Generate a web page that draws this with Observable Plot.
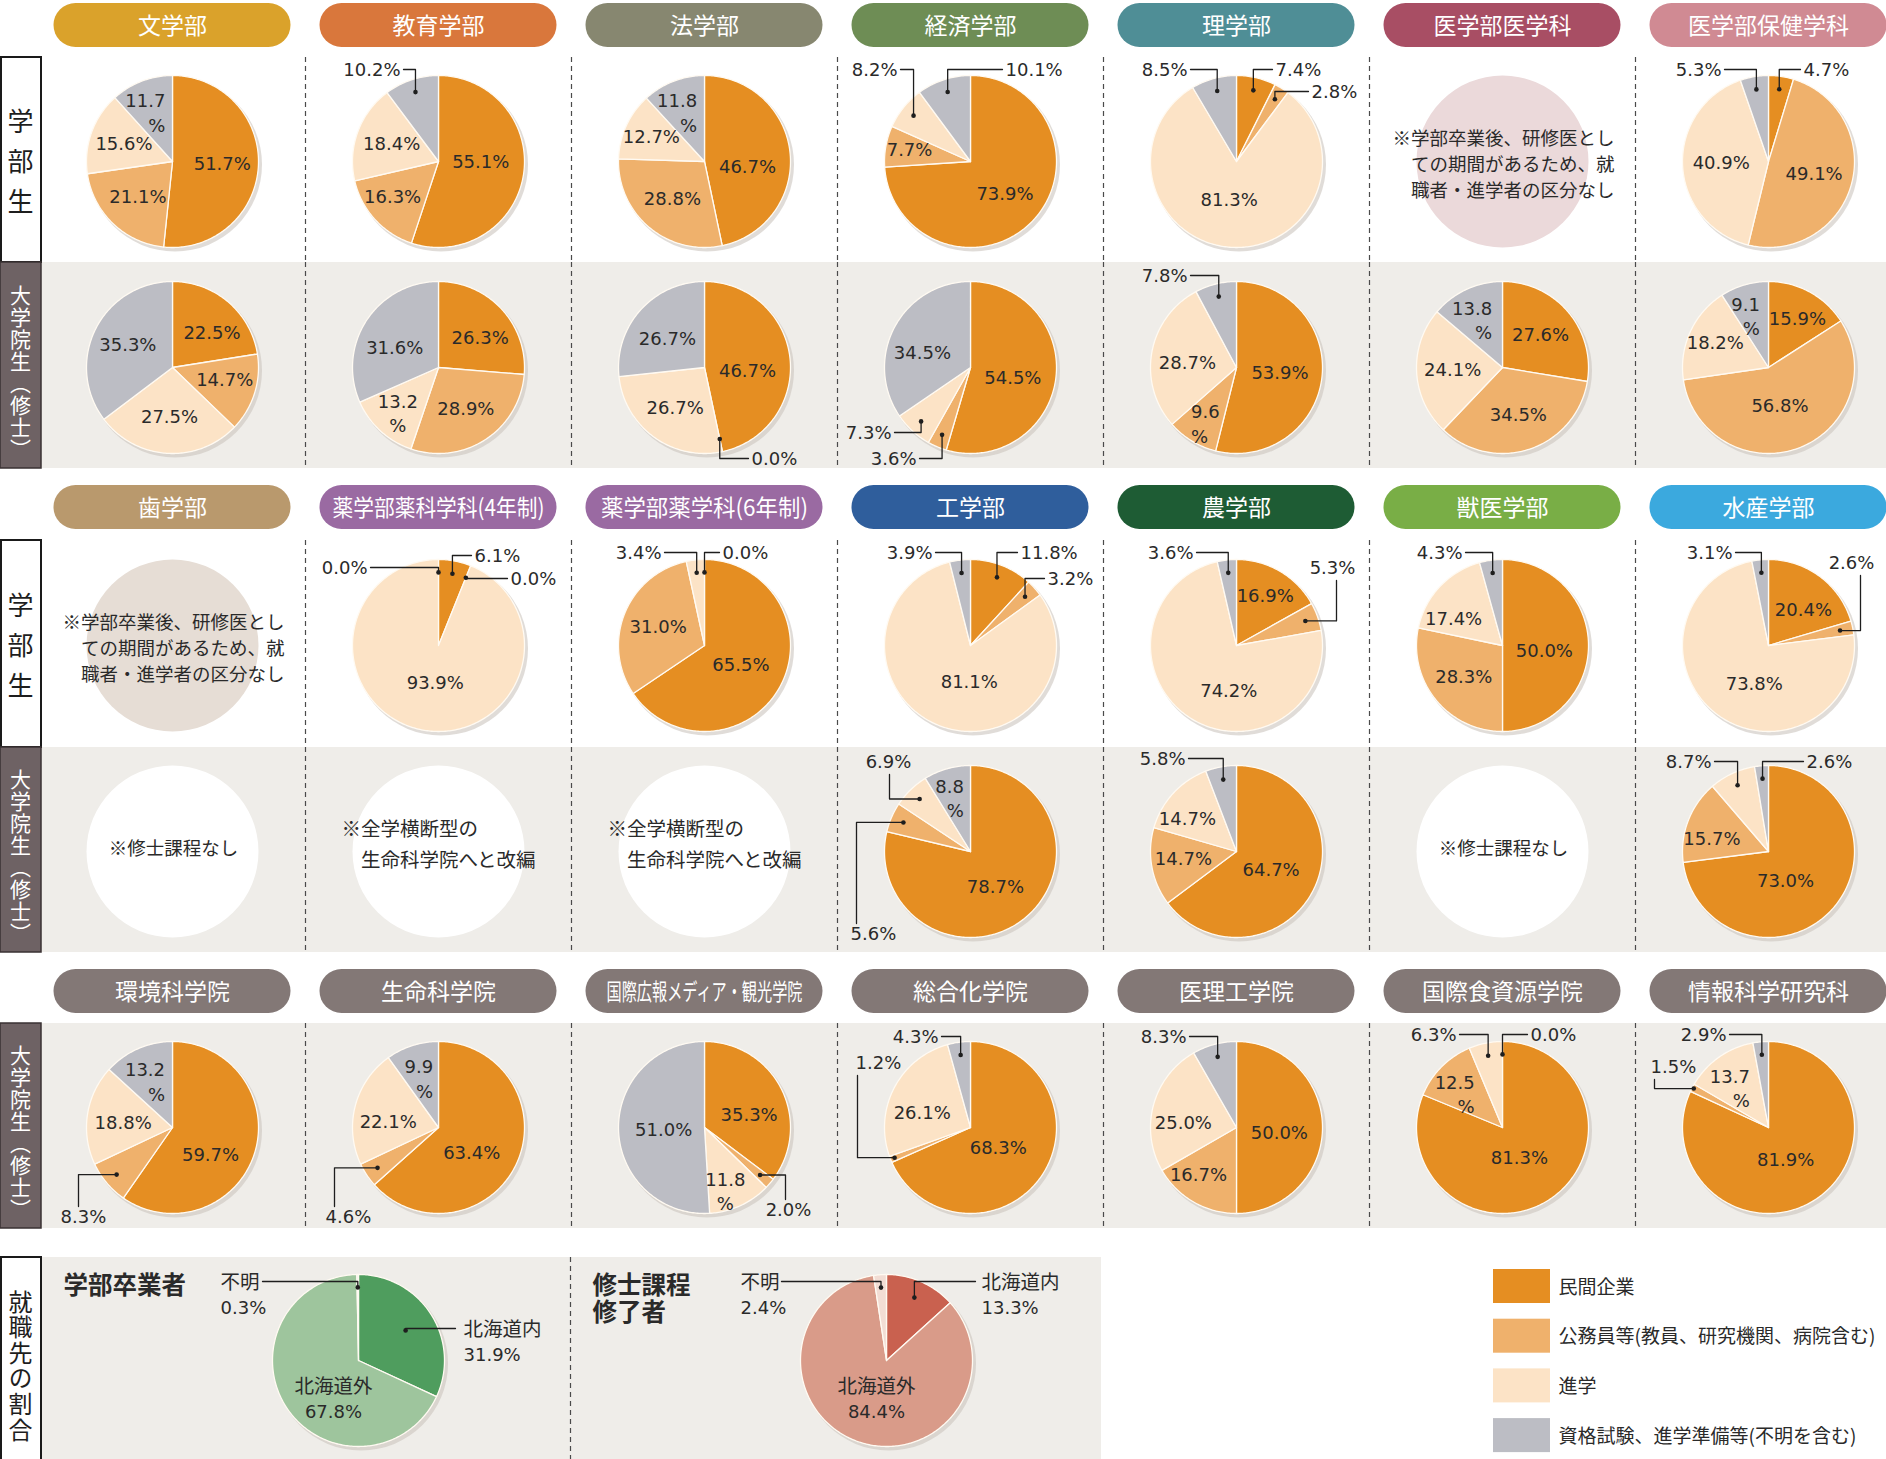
<!DOCTYPE html>
<html><head><meta charset="utf-8">
<script src="https://cdn.jsdelivr.net/npm/d3@7"></script>
<script src="https://cdn.jsdelivr.net/npm/@observablehq/plot@0.6"></script>
<style>body{margin:0;background:#fff}</style>
</head><body><div id="chart"></div>
<script>
// ---------------- data ----------------
const categories = ["民間企業", "公務員等(教員、研究機関、病院含む)", "進学", "資格試験、進学準備等(不明を含む)"];
const facultiesA = ["文学部", "教育学部", "法学部", "経済学部", "理学部", "医学部医学科", "医学部保健学科"];
const facultiesB = ["歯学部", "薬学部薬科学科(4年制)", "薬学部薬学科(6年制)", "工学部", "農学部", "獣医学部", "水産学部"];
const schoolsC = ["環境科学院", "生命科学院", "国際広報メディア・観光学院", "総合化学院", "医理工学院", "国際食資源学院", "情報科学研究科"];
// values in order: 民間企業, 公務員等, 進学, 資格試験等
const undergradA = [[51.7, 21.1, 15.6, 11.7], [55.1, 16.3, 18.4, 10.2], [46.7, 28.8, 12.7, 11.8], [73.9, 7.7, 8.2, 10.1], [7.4, 2.8, 81.3, 8.5], null, [4.7, 49.1, 40.9, 5.3]];
const masterA = [[22.5, 14.7, 27.5, 35.3], [26.3, 28.9, 13.2, 31.6], [46.7, 0.0, 26.7, 26.7], [54.5, 3.6, 7.3, 34.5], [53.9, 9.6, 28.7, 7.8], [27.6, 34.5, 24.1, 13.8], [15.9, 56.8, 18.2, 9.1]];
const undergradB = [null, [6.1, 0.0, 93.9, 0.0], [65.5, 31.0, 3.4, 0.0], [11.8, 3.2, 81.1, 3.9], [16.9, 5.3, 74.2, 3.6], [50.0, 28.3, 17.4, 4.3], [20.4, 2.6, 73.8, 3.1]];
const masterB = [null, null, null, [78.7, 5.6, 6.9, 8.8], [64.7, 14.7, 14.7, 5.8], null, [73.0, 15.7, 8.7, 2.6]];
const masterC = [[59.7, 8.3, 18.8, 13.2], [63.4, 4.6, 22.1, 9.9], [35.3, 2.0, 11.8, 51.0], [68.3, 1.2, 26.1, 4.3], [50.0, 16.7, 25.0, 8.3], [81.3, 12.5, 6.3, 0.0], [81.9, 1.5, 13.7, 2.9]];
const notesUndergradB = ["※学部卒業後、研修医とし\nての期間があるため、就\n職者・進学者の区分なし", null, null, null, null, null, null];
const notesUndergradA = [null, null, null, null, null, "※学部卒業後、研修医とし\nての期間があるため、就\n職者・進学者の区分なし", null];
const notesMasterB = ["※修士課程なし", "※全学横断型の\n　生命科学院へと改編", "※全学横断型の\n　生命科学院へと改編", null, null, "※修士課程なし", null];
const rowLabels = ["学部生", "大学院生(修士)", "就職先の割合"];
const regionNames = ["北海道内", "北海道外", "不明"];
const destUndergrad = [31.9, 67.8, 0.3];
const destMaster = [13.3, 84.4, 2.4];
const destTitles = ["学部卒業者", "修士課程\n修了者"];

// ---------------- styles ----------------
const catColors = ["#e58e22", "#efb16c", "#fce3c6", "#bcbdc4"];
const destKeys = ["U北海道内", "U北海道外", "U不明", "M北海道内", "M北海道外", "M不明"];
const destColors = ["#4f9d5e", "#9ec59d", "#e4ece1", "#c9614f", "#d99b89", "#f2ddd4"];
const pillColorsA = ["#daa22b", "#d9773c", "#878770", "#6e8d55", "#4f8e96", "#a84e64", "#d08a93"];
const pillColorsB = ["#b9996d", "#9a6aa2", "#9a6aa2", "#2f5e9c", "#1e5c34", "#79ae46", "#3ba9de"];
const pillColorC = "#837876";
const pctFont = "'DejaVu Sans', sans-serif";
const jpFont = "'Noto Sans CJK JP', 'Noto Sans CJK SC', sans-serif";

// ---------------- layout ----------------
const W = 1886, H = 1459, R = 86;
const colX = d3.range(7).map(k => 172 + 266 * k);
const sections = [
  {pillTop: 3, names: facultiesA, colors: pillColorsA, rows: [
    {y0: 57, y1: 262, kind: "u", values: undergradA, notes: notesUndergradA},
    {y0: 262, y1: 468, kind: "m", values: masterA, notes: null}]},
  {pillTop: 485, names: facultiesB, colors: pillColorsB, rows: [
    {y0: 540, y1: 747, kind: "u", values: undergradB, notes: notesUndergradB},
    {y0: 747, y1: 952, kind: "m", values: masterB, notes: notesMasterB}]},
  {pillTop: 969, names: schoolsC, colors: schoolsC.map(() => pillColorC), rows: [
    {y0: 1023, y1: 1228, kind: "m", values: masterC, notes: null}]}
];

// label layout helpers
const I = (f = 0.58, nx = 0, ny = 0) => ({t: "i", f, nx, ny});
const Wr = (f, a, xo = 0, yo = 0) => ({t: "w", f, a, xo, yo});
const V = (dx, dy, a, df = 0.85, le) => ({t: "o", r: "vh", dx, dy, a, df, le});
const Hv = (dx, dy, a, ex, df = 0.85, ey) => ({t: "o", r: "hv", dx, dy, a, ex, df, ey});

const labelLayouts = [
  [ // section A undergrad
    [I(), I(), I(0.6), Wr(0.62, "end", 12)],
    [I(0.58, -7, -7), I(0.58, -9, 2), I(), V(-38, -91, "end")],
    [I(0.55, -4, 11), I(), I(0.68), Wr(0.62, "end", 12)],
    [I(0.55), I(0.72), V(-73, -91, "end"), V(35, -91, "start")],
    [V(39, -91, "start"), V(75, -69, "start"), I(0.5, -5, -4), V(-49, -91, "end")],
    null,
    [V(35, -91, "start"), I(0.55), I(0.55), V(-47, -91, "end")]
  ],
  [ // section A master
    [I(0.6, 6, 5), I(0.6, 3, -3), I(), I()],
    [I(0.58, 5, 5), I(), Wr(0.7, "middle"), I(0.58, -2, 8)],
    [I(0.55, -4, 9), V(47, 92, "start"), I(), I(0.58, 0, 5)],
    [I(0.58, -7, 4), V(-54, 92, "end"), V(-79, 66, "end"), I(0.58, -4, 9)],
    [I(0.58, -6, 0), Wr(0.75, "start", -12), I(0.58, 0, 5), V(-49, -91, "end")],
    [I(), I(), I(), Wr(0.62, "end", 12)],
    [I(0.58, 5, -4), I(0.58, -6, -8), I(0.68), Wr(0.6, "end", 6, -3)]
  ],
  [ // section B undergrad
    null,
    [V(36, -89, "start"), V(72, -66, "start"), I(0.5, 5, -4), V(-71, -77, "end")],
    [I(0.48), I(), V(-43, -92, "end"), V(18, -92, "start")],
    [V(50, -92, "start"), V(77, -66, "start"), I(0.45, 12, 0), V(-38, -92, "end")],
    [I(0.66), Hv(96, -77, "middle", 100), I(0.5, 16, 10), V(-43, -92, "end")],
    [I(0.58, -8, 6), I(), I(0.62, -10, 10), V(-40, -92, "end")],
    [I(0.62, 3, 7), Hv(83, -82, "middle", 92), I(0.5, 11, 4), V(-36, -92, "end")]
  ],
  [ // section B master
    null, null, null,
    [I(0.58, -6, -3), Hv(-120, 83, "start", -114), Hv(-82, -89, "middle", -81), Wr(0.62, "end", 8, -3)],
    [I(0.58, -10, -4), I(0.58, -4, -1), I(0.68, -6, 7), V(-51, -92, "end")],
    null,
    [I(0.45, -12, 4), I(0.58, -10, 6), V(-57, -89, "end"), V(38, -89, "start")]
  ],
  [ // section C master
    [I(0.5, -3, 15), Hv(-112, 90, "start", -94), I(0.58, 0, 3), Wr(0.62, "end", 14, 2)],
    [I(0.5, -6, 8), Hv(-113, 90, "start", -104), I(0.58, -2, 7), Wr(0.62, "end", 11, 1)],
    [I(0.58, 0, 10), Hv(84, 83, "middle", 81), Wr(0.75, "middle", -6, 4), I(0.58, 9, 1)],
    [I(0.58, -14, -6), Hv(-115, -64, "start", -113, 0.95), I(0.58, -4, 9), V(-32, -90, "end")],
    [I(0.58, -7, 6), I(0.58, -13, 5), I(0.58, -5, 9), V(-50, -90, "end")],
    [I(0.5, -7, -5), Wr(0.62, "end", 10, 3), V(-46, -92, "end"), V(28, -92, "start")],
    [I(0.5, -6, -3), Hv(-118, -60, "start", -114, 0.98), Wr(0.62, "end", 12, 3), V(-42, -92, "end")]
  ]
];

// ---------------- build mark data ----------------
const slicePts = [], leaderPts = [], leaderDots = [], labels = [], pieCenters = [], noteCircles = [], noteTexts = [];
const fmt = v => v.toFixed(1) + "%";
const NAME_GAP = 26;

function addPie(id, cx, cy, values, keys, spec) {
  pieCenters.push({x: cx, y: cy});
  const total = d3.sum(values);
  let cum = 0;
  values.forEach((v, i) => {
    const a0 = cum / total * 2 * Math.PI, a1 = (cum + v) / total * 2 * Math.PI, am = (a0 + a1) / 2;
    cum += v;
    if (v > 0) {
      const n = Math.max(2, Math.ceil((a1 - a0) / (Math.PI / 180)));
      const key = id + "-" + i;
      slicePts.push({key, cat: keys[i], x: cx, y: cy});
      for (let j = 0; j <= n; j++) {
        const a = a0 + (a1 - a0) * j / n;
        slicePts.push({key, cat: keys[i], x: cx + R * Math.sin(a), y: cy - R * Math.cos(a)});
      }
      slicePts.push({key, cat: keys[i], x: cx, y: cy});
    }
    const s = spec && spec[i];
    if (!s) return;
    const pt = f => [cx + R * f * Math.sin(am), cy - R * f * Math.cos(am)];
    if (s.t === "i") {
      const [x, y] = pt(s.f);
      labels.push({x: x + s.nx, y: y + s.ny, text: fmt(v), anchor: "middle", kind: "pct"});
    } else if (s.t === "w") {
      const [x, y] = pt(s.f);
      labels.push({x: x + s.xo, y: y + s.yo, text: v.toFixed(1) + "\n%", anchor: s.a, kind: "wrap"});
    } else if (s.t === "n") {
      labels.push({x: cx + s.dx, y: cy + s.dy - 1, text: s.name, anchor: "middle", kind: "jp"});
      labels.push({x: cx + s.dx, y: cy + s.dy + NAME_GAP - 1, text: fmt(v), anchor: "middle", kind: "pct"});
    } else {
      const [px, py] = pt(s.df);
      const tx = cx + s.dx, ty = cy + s.dy, key = id + "-L" + i;
      leaderDots.push({x: px, y: py});
      if (s.r === "vh") {
        const ly = ty - 1;
        const le = s.le !== undefined ? cx + s.le : (s.a === "end" ? tx + 3 : tx - 3);
        leaderPts.push({key, x: px, y: py}, {key, x: px, y: ly}, {key, x: le, y: ly});
      } else {
        const ex = cx + s.ex;
        const ey = s.ey !== undefined ? cy + s.ey : (ty < py ? ty + 12 : ty - 11);
        leaderPts.push({key, x: px, y: py}, {key, x: ex, y: py}, {key, x: ex, y: ey});
      }
      if (s.name) {
        labels.push({x: tx, y: ty, text: s.name, anchor: s.a, kind: "jp"});
        labels.push({x: tx, y: ty + NAME_GAP, text: fmt(v), anchor: s.a, kind: "pct"});
      } else {
        labels.push({x: tx, y: ty, text: fmt(v), anchor: s.a, kind: "pct"});
      }
    }
  });
}

const bands = [], whiteBoxes = [], darkBoxes = [], seps = [], pills = [], vLabels = [];
const vertLabel = s => s.replace("(", "（").replace(")", "）");
let layoutIndex = 0;
sections.forEach((sec, si) => {
  sec.names.forEach((name, k) => pills.push({cx: colX[k], y1: sec.pillTop, y2: sec.pillTop + 44, name, color: sec.colors[k]}));
  sec.rows.forEach((row, ri) => {
    const cy = Math.round((row.y0 + row.y1) / 2 + 1.5);
    if (row.kind === "m") { bands.push({x1: 41, x2: W, y1: row.y0, y2: row.y1}); darkBoxes.push({y1: row.y0, y2: row.y1}); }
    else whiteBoxes.push({y1: row.y0, y2: row.y1});
    vLabels.push({y: (row.y0 + row.y1) / 2, text: vertLabel(row.kind === "u" ? rowLabels[0] : rowLabels[1]), kind: row.kind});
    colX.slice(0, 6).forEach(x => seps.push({x: x + 133, y1: row.y0, y2: row.y1}));
    const spec = labelLayouts[layoutIndex++];
    colX.forEach((cx, k) => {
      const vals = row.values[k];
      if (vals) addPie(`s${si}r${ri}c${k}`, cx, cy, vals, categories, spec[k]);
      else if (row.notes && row.notes[k]) {
        const txt = row.notes[k];
        const isLong = txt.length > 20;
        noteCircles.push({x: cx, y: cy, fill: row.kind === "u" ? (k === 0 ? "#e6ddd5" : "#ebd9da") : "#ffffff"});
        if (isLong) noteTexts.push({x: cx + 112, y: cy + 1, text: txt, anchor: "end", size: 18.5, lh: 1.4});
        else if (txt.includes("\n")) noteTexts.push({x: cx - 97, y: cy - 10, text: txt, anchor: "start", size: 19.5, lh: 1.6});
        else noteTexts.push({x: cx + 1, y: cy - 2, text: txt, anchor: "middle", size: 18.5, lh: 1});
      }
    });
  });
});

// bottom section
const botY0 = 1257;
bands.push({x1: 41, x2: 1101, y1: botY0, y2: H});
whiteBoxes.push({y1: botY0, y2: H + 2});
vLabels.push({y: 1358, text: rowLabels[2], kind: "d"});
seps.push({x: 570, y1: botY0, y2: H});
addPie("dU", 358, 1360, destUndergrad, destKeys.slice(0, 3), [
  {t: "o", r: "vh", dx: 105, dy: -31, a: "start", df: 0.65, le: 97, name: regionNames[0]},
  {t: "n", dx: -25, dy: 27, name: regionNames[1]},
  {t: "o", r: "vh", dx: -138, dy: -78, a: "start", df: 0.85, le: -96, name: regionNames[2]}
]);
addPie("dM", 886, 1360, destMaster, destKeys.slice(3, 6), [
  {t: "o", r: "vh", dx: 95, dy: -78, a: "start", df: 0.8, le: 89, name: regionNames[0]},
  {t: "n", dx: -10, dy: 27, name: regionNames[1]},
  {t: "o", r: "vh", dx: -146, dy: -78, a: "start", df: 0.85, le: -105, name: regionNames[2]}
]);
const titles = [{x: 63, y: 1285, text: destTitles[0]}, {x: 592, y: 1298, text: destTitles[1]}];
const legendItems = categories.map((c, i) => ({cat: c, y1: 1269 + i * 49.7, y2: 1303 + i * 49.7}));

// ---------------- plot ----------------
const txt = (data, opts) => Plot.text(data, {x: "x", y: "y", text: "text", ...opts});
const pctMarks = ["start", "middle", "end"].map(a => txt(labels.filter(d => d.kind === "pct" && d.anchor === a), {textAnchor: a, fontSize: 18, fontFamily: pctFont, fill: "#2a2a2a"}));
const wrapMarks = ["start", "middle", "end"].map(a => txt(labels.filter(d => d.kind === "wrap" && d.anchor === a), {textAnchor: a, fontSize: 18, lineHeight: 1.35, fontFamily: pctFont, fill: "#2a2a2a"}));
const jpMarks = ["start", "middle", "end"].map(a => txt(labels.filter(d => d.kind === "jp" && d.anchor === a), {textAnchor: a, fontSize: 19.5, fontFamily: jpFont, fill: "#2a2a2a"}));
const noteMarks = ["start", "middle", "end"].flatMap(a => {
  const ds = noteTexts.filter(d => d.anchor === a);
  return d3.groups(ds, d => d.size + "|" + d.lh).map(([, g]) => txt(g, {textAnchor: a, fontSize: g[0].size, lineHeight: g[0].lh, fontFamily: jpFont, fill: "#2a2a2a"}));
});

const chart = Plot.plot({
  width: W, height: H, margin: 0,
  x: {domain: [0, W], range: [0, W], axis: null},
  y: {domain: [0, H], range: [0, H], axis: null},
  color: {domain: [...categories, ...destKeys], range: [...catColors, ...destColors]},
  style: {background: "#ffffff"},
  marks: [
    Plot.rect(bands, {x1: "x1", x2: "x2", y1: "y1", y2: "y2", fill: "#efede9"}),
    Plot.rect(whiteBoxes, {x1: 1, x2: 41, y1: "y1", y2: "y2", fill: "#ffffff", stroke: "#1a1a1a", strokeWidth: 2}),
    Plot.rect(darkBoxes, {x1: 0, x2: 41, y1: "y1", y2: "y2", fill: "#6e6264", stroke: "#3a3233", strokeWidth: 1.5}),
    Plot.ruleX(seps, {x: "x", y1: "y1", y2: "y2", stroke: "#4a4a4a", strokeWidth: 1.2, strokeDasharray: "5,4"}),
    Plot.rect(pills, {x1: d => d.cx - 118.5, x2: d => d.cx + 118.5, y1: "y1", y2: "y2", fill: "color", rx: 22, ry: 22}),
    Plot.text(pills, {x: "cx", y: d => (d.y1 + d.y2) / 2 + 1, text: "name", fill: "#ffffff", fontSize: 23, fontFamily: jpFont}),
    Plot.dot(pieCenters, {x: "x", y: "y", r: R + 1, fill: "#cbc5be", fillOpacity: 0.6, dx: 2.5, dy: 3}),
    Plot.dot(noteCircles, {x: "x", y: "y", r: R, fill: "fill"}),
    Plot.line(slicePts, {x: "x", y: "y", z: "key", fill: "cat", stroke: "#fffaf2", strokeWidth: 1.3, curve: "linear"}),
    Plot.line(leaderPts, {x: "x", y: "y", z: "key", stroke: "#1e1e1e", strokeWidth: 1.3, curve: "linear"}),
    Plot.dot(leaderDots, {x: "x", y: "y", r: 2.3, fill: "#1e1e1e"}),
    ...pctMarks, ...wrapMarks, ...jpMarks, ...noteMarks,
    txt(vLabels.filter(d => d.kind === "u"), {x: 20, fontSize: 26, fontFamily: jpFont, fill: "#1e1e1e"}),
    txt(vLabels.filter(d => d.kind === "m"), {x: 20, fontSize: 21, fontFamily: jpFont, fill: "#ffffff"}),
    txt(vLabels.filter(d => d.kind === "d"), {x: 20, fontSize: 24, fontFamily: jpFont, fill: "#1e1e1e"}),
    txt(titles, {textAnchor: "start", fontSize: 24.5, lineHeight: 1.12, fontWeight: "bold", fontFamily: jpFont, fill: "#2a2a2a"}),
    Plot.rect(legendItems, {x1: 1493, x2: 1550, y1: "y1", y2: "y2", fill: "cat"}),
    Plot.text(legendItems, {x: 1558, y: d => (d.y1 + d.y2) / 2 + 1, text: "cat", textAnchor: "start", fontSize: 19, fontFamily: jpFont, fill: "#2a2a2a"})
  ]
});

// condensed pill labels and vertical row labels
const condensed = {"薬学部薬科学科(4年制)": 212, "薬学部薬学科(6年制)": 207, "国際広報メディア・観光学院": 196};
const verticalSpacing = {"学部生": 14, "大学院生（修士）": 1, "就職先の割合": 1.6};
chart.querySelectorAll("text").forEach(t => {
  const w = condensed[t.textContent];
  if (w) { t.setAttribute("textLength", w); t.setAttribute("lengthAdjust", "spacingAndGlyphs"); }
  const ls = verticalSpacing[t.textContent];
  if (ls !== undefined) {
    t.removeAttribute("dy");
    t.style.writingMode = "vertical-rl";
    t.style.letterSpacing = ls + "px";
  }
});
document.getElementById("chart").append(chart);
</script></body></html>
